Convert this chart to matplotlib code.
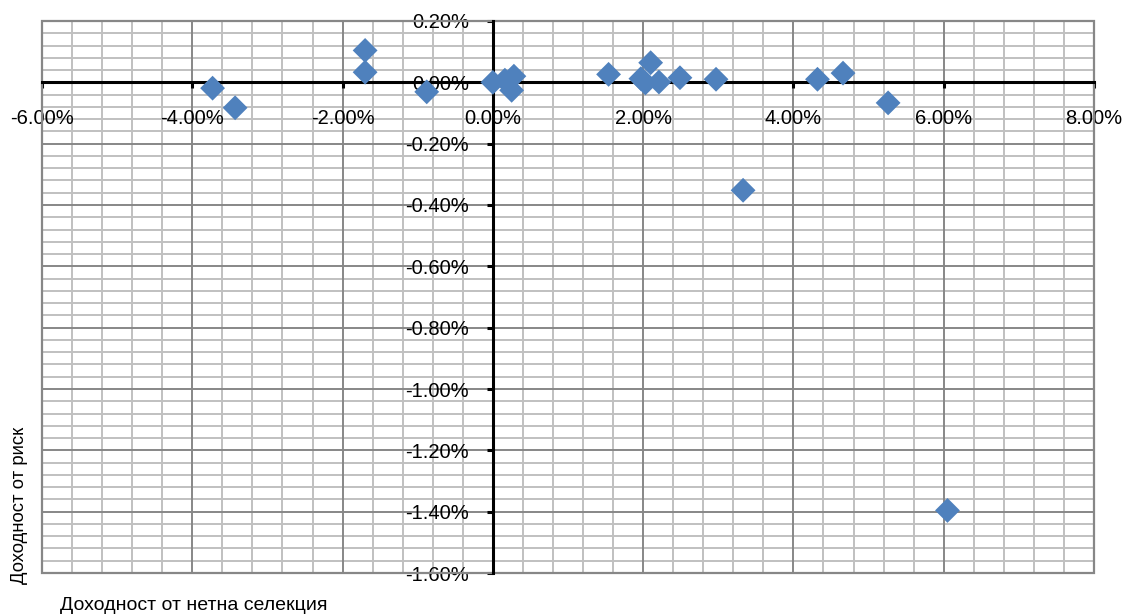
import matplotlib
matplotlib.use("Agg")
import matplotlib.pyplot as plt
from matplotlib.ticker import MultipleLocator, FuncFormatter
from matplotlib.patches import Rectangle

plt.rcParams['font.family'] = ['Liberation Sans', 'DejaVu Sans']

# Net selectivity return (%) vs. risk return (%)
net_selectivity = [-3.73, -3.43, -1.70, -1.70, -0.88, 0.00, 0.16, 0.28, 0.25,
                   1.54, 1.97, 2.03, 2.10, 2.21, 2.49, 2.97, 3.33, 4.32,
                   4.66, 5.26, 6.05]
risk_return = [-0.019, -0.083, 0.104, 0.033, -0.031, 0.000, 0.007, 0.020, -0.026,
               0.026, 0.012, -0.002, 0.064, 0.001, 0.015, 0.010, -0.352, 0.010,
               0.030, -0.067, -1.396]

x_label = "Доходност от нетна селекция"
y_label = "Доходност от риск"

fig = plt.figure(figsize=(11.26, 6.15), dpi=100)
ax = fig.add_axes([42 / 1126, 1 - 573 / 615, 1052 / 1126, 552 / 615])

ax.set_xlim(-6, 8)
ax.set_ylim(-1.6, 0.2)

ax.xaxis.set_major_locator(MultipleLocator(2))
ax.xaxis.set_minor_locator(MultipleLocator(0.4))
ax.yaxis.set_major_locator(MultipleLocator(0.2))
ax.yaxis.set_minor_locator(MultipleLocator(0.04))

pct = FuncFormatter(lambda v, p: f"{v:.2f}%")
ax.xaxis.set_major_formatter(pct)
ax.yaxis.set_major_formatter(pct)

# gridlines drawn as plain lines underneath the axis so tick labels sit on top
x_minor = ax.xaxis.get_minorticklocs()
x_major = ax.xaxis.get_majorticklocs()
y_minor = ax.yaxis.get_minorticklocs()
y_major = ax.yaxis.get_majorticklocs()
for v in x_minor:
    ax.axvline(v, color='#c0c0c0', linewidth=1.4, zorder=0.1)
for v in y_minor:
    ax.axhline(v, color='#c0c0c0', linewidth=1.4, zorder=0.1)
for v in x_major:
    ax.axvline(v, color='#878787', linewidth=1.4, zorder=0.2)
for v in y_major:
    ax.axhline(v, color='#878787', linewidth=1.4, zorder=0.2)
ax.set_xlim(-6, 8)
ax.set_ylim(-1.6, 0.2)
ax.set_axisbelow(True)

# axes crossing at the origin
for side in ('left', 'bottom'):
    ax.spines[side].set_position(('data', 0))
    ax.spines[side].set_color('black')
    ax.spines[side].set_linewidth(2.2)
    ax.spines[side].set_zorder(2)
for side in ('top', 'right'):
    ax.spines[side].set_visible(False)

ax.add_patch(Rectangle((0, 0), 1, 1, transform=ax.transAxes, fill=False,
                       edgecolor='#878787', linewidth=1.6, zorder=1, clip_on=False))

ax.tick_params(which='minor', length=0)
ax.tick_params(axis='x', which='major', direction='out', length=4, width=2.2,
               pad=15, labelsize=14.5, colors='black')
ax.tick_params(axis='y', which='major', direction='out', length=4, width=2.2,
               pad=13, labelsize=14.5, colors='black')

ax.scatter(net_selectivity, risk_return, marker='D', s=160, color='#4F81BD',
           edgecolors='none', zorder=3, clip_on=False)

fig.text(20 / 1126, 1 - 505 / 615, y_label, rotation=90, ha='center', va='center',
         fontsize=13.3)
fig.text(60 / 1126, 1 - 605 / 615, x_label, ha='left', va='center', fontsize=14)

fig.savefig("out.png", dpi=100)
